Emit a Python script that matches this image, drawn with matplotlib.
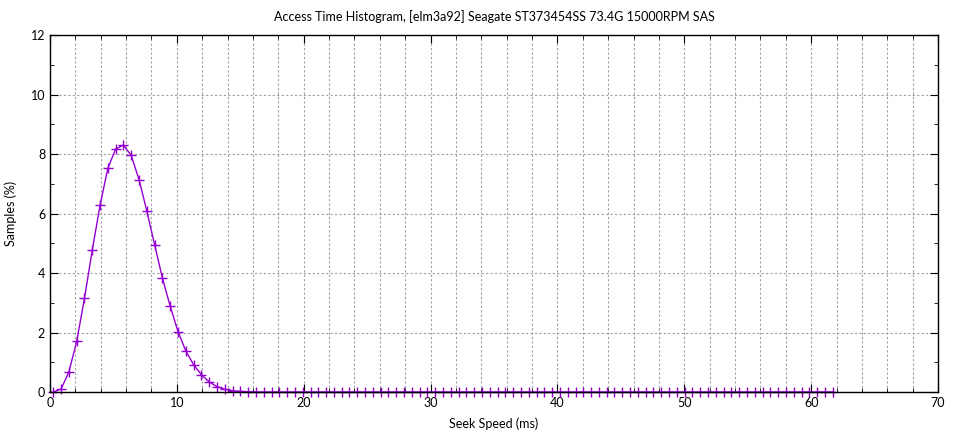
import numpy as np
import matplotlib
matplotlib.use('Agg')
import matplotlib.pyplot as plt
from matplotlib.ticker import MultipleLocator

# histogram bins (ms) and sample share (%)
seek_ms = np.linspace(0.26, 61.7, 101)
samples = [0.0, 0.10, 0.67, 1.70, 3.15, 4.77, 6.28, 7.52, 8.17, 8.30,
           7.95, 7.14, 6.08, 4.95, 3.83, 2.88, 2.03, 1.38, 0.92, 0.58,
           0.34, 0.18, 0.09, 0.04, 0.02, 0.01] + [0.0] * 75

title = 'Access Time Histogram, [elm3a92] Seagate ST373454SS 73.4G 15000RPM SAS'

plt.rcParams['font.family'] = ['Lato', 'DejaVu Sans']

fig = plt.figure(figsize=(9.6, 4.32), dpi=100)
ax = fig.add_axes([50 / 960, 1 - 392 / 432, 888 / 960, 357 / 432])

# drawn under the frame so the black axis line stays visible along zero
ax.plot(seek_ms, samples, color='#9400d3', lw=1.0, marker='+', ms=7, mew=1.0,
        clip_on=False, zorder=2)

ax.set_xlim(0, 70)
ax.set_ylim(0, 12)
ax.xaxis.set_major_locator(MultipleLocator(10))
ax.xaxis.set_minor_locator(MultipleLocator(2))
ax.yaxis.set_major_locator(MultipleLocator(2))
ax.yaxis.set_minor_locator(MultipleLocator(1))

ax.grid(which='major', axis='both', color='#a0a0a0', ls=(0, (2, 2)), lw=0.8)
ax.grid(which='minor', axis='x', color='#a0a0a0', ls=(0, (2, 2)), lw=0.8)
ax.set_axisbelow(True)

ax.tick_params(which='both', direction='in', top=True, right=True, labelsize=9)
ax.tick_params(which='major', length=6)
ax.tick_params(which='minor', length=3)
for s in ax.spines.values():
    s.set_linewidth(1.0)
    s.set_zorder(3)

ax.set_xlabel('Seek Speed (ms)', fontsize=9, labelpad=6)
ax.set_ylabel('Samples (%)', fontsize=9, labelpad=10)
ax.set_title(title, fontsize=9, pad=10)

fig.savefig('out.png', dpi=100)
